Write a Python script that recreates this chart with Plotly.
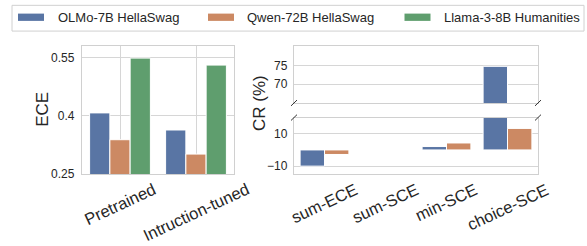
import plotly.graph_objects as go

# ---------------- data ----------------
stages = ["Pretrained", "Intruction-tuned"]
ece_olmo = [0.407, 0.363]
ece_qwen = [0.338, 0.301]
ece_llama = [0.548, 0.530]

methods = ["sum-ECE", "sum-SCE", "min-SCE", "choice-SCE"]
cr_olmo = [-10.0, 0.0, 2.1, 74.9]
cr_qwen = [-2.8, 0.0, 4.3, 13.3]

series_names = ["OLMo-7B HellaSwag", "Qwen-72B HellaSwag", "Llama-3-8B Humanities"]
colors = ["#5975a4", "#cc8963", "#5f9e6e"]

ece_ticks = [0.25, 0.4, 0.55]
ece_ticktext = ["0.25", "0.4", "0.55"]
cr_top_ticks = [70, 75]
cr_bot_ticks = [-10, 10]

# ---------------- layout helpers ----------------
W, H = 587, 246
FONT = "Liberation Sans, Arial, sans-serif"
TXT = "#262626"
GRID = "#d6d6d6"
SPINE = "#d0d0d0"


def px(x):
    return x / W


def py(y):
    return 1 - y / H


fig = go.Figure()
bar_line = dict(color="white", width=1)

# Left panel: ECE
for name, vals, c in zip(series_names, [ece_olmo, ece_qwen, ece_llama], colors):
    fig.add_trace(go.Bar(x=stages, y=vals, name=name, marker=dict(color=c, line=bar_line),
                         xaxis="x", yaxis="y", showlegend=False))

# Right panel: CR, broken axis (top x2/y2, bottom x3/y3)
for ax in [("x2", "y2"), ("x3", "y3")]:
    for name, vals, c in zip(series_names[:2], [cr_olmo, cr_qwen], colors[:2]):
        fig.add_trace(go.Bar(x=methods, y=vals, name=name, marker=dict(color=c, line=bar_line),
                             xaxis=ax[0], yaxis=ax[1], showlegend=False))

axis_common = dict(showline=True, mirror=True, linecolor=SPINE, linewidth=1.25,
                   gridcolor=GRID, gridwidth=1, zeroline=False,
                   tickfont=dict(family=FONT, size=12, color=TXT), ticks="")
xaxis_common = {k: v for k, v in axis_common.items() if k != "tickfont"}

fig.update_layout(
    width=W, height=H, margin=dict(l=0, r=0, t=0, b=0),
    paper_bgcolor="white", plot_bgcolor="white",
    barmode="group", bargap=0.2, bargroupgap=0, showlegend=False,
    font=dict(family=FONT, color=TXT),
    xaxis=dict(domain=[px(82), px(234)], anchor="y", showticklabels=False, showgrid=True,
               range=[-0.5, 1.5], **xaxis_common),
    yaxis=dict(domain=[py(179), py(47)], anchor="x", range=[0.25, 0.58],
               tickvals=ece_ticks, ticktext=ece_ticktext, showgrid=True, ticklabelstandoff=4, **axis_common),
    xaxis2=dict(domain=[px(294), px(538)], anchor="y2", showticklabels=False, showgrid=False,
                range=[-0.5, 3.5], **xaxis_common),
    yaxis2=dict(domain=[py(106), py(47)], anchor="x2", range=[64.8, 80.6],
                tickvals=cr_top_ticks, showgrid=True, ticklabelstandoff=3, **axis_common),
    xaxis3=dict(domain=[px(294), px(538)], anchor="y3", showticklabels=False, showgrid=False,
                range=[-0.5, 3.5], **xaxis_common),
    yaxis3=dict(domain=[py(179), py(121)], anchor="x3", range=[-14.8, 20.0],
                tickvals=cr_bot_ticks, showgrid=True, ticklabelstandoff=3, **axis_common),
)

annotations = []
# rotated category labels, top-center anchored
for s in stages:
    annotations.append(dict(x=s, xref="x", y=py(182.5), yref="paper", text=s, showarrow=False,
                            textangle=-25, font=dict(family=FONT, size=16.5, color=TXT),
                            xanchor="center", yanchor="top"))
for m in methods:
    annotations.append(dict(x=m, xref="x3", y=py(182.5), yref="paper", text=m, showarrow=False,
                            textangle=-25, font=dict(family=FONT, size=16.5, color=TXT),
                            xanchor="center", yanchor="top"))
# axis titles
annotations.append(dict(x=px(43), y=py(113), xref="paper", yref="paper", text="ECE", showarrow=False,
                        textangle=-90, xanchor="center", yanchor="middle",
                        font=dict(family=FONT, size=17, color=TXT)))
annotations.append(dict(x=px(260), y=py(106), xref="paper", yref="paper", text="CR (%)", showarrow=False,
                        textangle=-90, xanchor="center", yanchor="middle",
                        font=dict(family=FONT, size=17, color=TXT)))

shapes = []
# legend frame, swatches and labels
shapes.append(dict(type="rect", xref="paper", yref="paper", x0=px(12), x1=px(584), y0=py(32), y1=py(5.5),
                   line=dict(color="#d0d0d0", width=1), fillcolor="white"))
for sx, tx, name, c in zip([18, 208, 404.5], [56, 245, 442], series_names, colors):
    shapes.append(dict(type="rect", xref="paper", yref="paper", x0=px(sx), x1=px(sx + 26),
                       y0=py(21.5), y1=py(14), line=dict(width=0), fillcolor=c))
    annotations.append(dict(x=px(tx), y=py(17.8), xref="paper", yref="paper", text=name, showarrow=False,
                            xanchor="left", yanchor="middle", font=dict(family=FONT, size=13, color=TXT)))

# broken-axis diagonal marks
for cx in [294, 538]:
    for cy in [106, 121]:
        shapes.append(dict(type="line", xref="paper", yref="paper", x0=px(cx - 3), y0=py(cy + 3),
                           x1=px(cx + 3), y1=py(cy - 3), line=dict(color="#333333", width=1)))

fig.update_layout(annotations=annotations, shapes=shapes)
fig.write_html("out.html", config={"displayModeBar": False},
               post_script="document.body.style.margin='0';document.body.style.overflow='hidden';")
